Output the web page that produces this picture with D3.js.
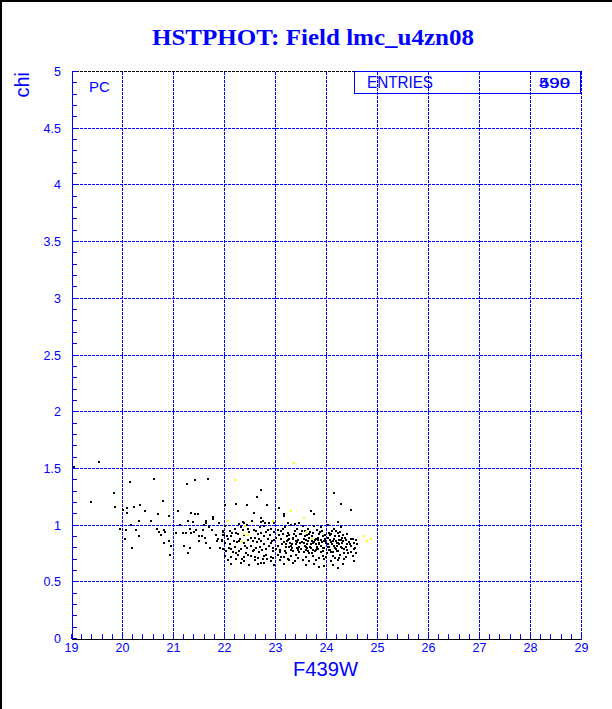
<!DOCTYPE html>
<html><head><meta charset="utf-8">
<script src="https://cdn.jsdelivr.net/npm/d3@7"></script>
<style>html,body{margin:0;padding:0;background:#fff;}svg{display:block;}</style>
</head><body>
<script>
const titleText = "HSTPHOT: Field lmc_u4zn08";
const xLabel = "F439W";
const yLabel = "chi";
const cornerLabel = "PC";
const legendLabel = "ENTRIES";
const legendValues = ["590", "499"];
const xTicks = [19,20,21,22,23,24,25,26,27,28,29];
const yTicks = [0,0.5,1,1.5,2,2.5,3,3.5,4,4.5,5];
const yTickLabels = ["0","0.5","1","1.5","2","2.5","3","3.5","4","4.5","5"];

const sparsePoints = [
[19.05,1.51],[19.54,1.56],[20.62,1.41],[20.15,1.38],[21.26,1.36],[21.42,1.40],[21.68,1.41],[19.84,1.28],[19.39,1.20],[20.79,1.21],
[20.34,1.18],[19.86,1.16],[20.09,1.15],[20.09,1.11],[20.22,1.16],[20.44,1.12],[20.01,1.13],[20.70,1.10],[20.92,1.08],[21.08,1.12],
[21.35,1.11],[21.42,1.10],[21.48,1.10],[21.28,1.04],[21.39,1.03],[21.63,1.04],[21.63,1.02],[21.77,1.07],[21.77,1.05],[21.89,1.02],
[22.00,1.18],[20.56,1.04],[20.32,1.04],[20.16,1.00],[19.95,0.97],[20.06,0.96],[20.05,0.88],[20.27,0.96],[20.32,0.90],[20.19,0.80],
[20.68,0.97],[20.71,0.94],[20.76,0.91],[20.81,0.96],[20.84,0.94],[20.82,0.84],[20.91,0.86],[20.95,0.82],[20.93,0.74],[21.04,0.93],
[21.13,1.00],[21.19,0.93],[21.25,0.93],[21.33,0.97],[21.35,0.93],[21.41,0.94],[21.21,0.82],[21.29,0.75],[21.32,0.80],[21.50,0.90],
[21.50,0.86],[21.55,0.90],[21.61,0.89],[21.63,0.84],[21.71,0.80],[21.45,0.96],[21.58,0.96],[21.69,0.98],[21.76,0.96],[21.84,0.91],
[21.87,0.88],[21.85,0.86],[21.95,0.86],[21.92,0.80],[21.98,0.95],[21.97,0.91],[22.00,0.73],[21.60,1.00],
[22.64,1.25],[22.71,1.31],[22.22,1.19],[22.44,1.18],[22.83,1.18],[22.57,1.11],[23.06,1.15],[23.17,1.10],[23.17,1.08],[22.72,1.06],
[22.72,1.03],[22.80,1.02],[22.75,1.04],[22.53,1.04],[22.36,1.03],[22.39,1.02],[22.29,1.01],[22.88,1.02],[22.98,1.02],[23.24,1.02],
[23.38,1.01],[23.47,1.02],[24.14,1.28],[24.28,1.19],[24.48,1.13],[23.75,1.10],[23.70,1.12],[24.22,1.03]
];

const clusterWest = [
[22.01,0.99],[22.20,0.97],[22.33,0.98],[22.44,1.00],[22.57,0.96],[22.69,0.98],[22.78,0.99],[22.91,0.97],[23.04,0.96],[23.19,0.98],[23.30,1.00],[23.42,0.97],
[21.97,0.94],[22.10,0.95],[22.23,0.93],[22.36,0.96],[22.49,0.94],[22.62,0.95],[22.72,0.93],[22.85,0.96],[22.98,0.94],[23.10,0.95],[23.24,0.93],[23.38,0.95],
[21.99,0.91],[22.13,0.90],[22.26,0.92],[22.38,0.91],[22.51,0.89],[22.65,0.92],[22.77,0.90],[22.90,0.91],[23.01,0.89],[23.14,0.92],[23.27,0.91],[23.40,0.90],[23.49,0.92],
[21.95,0.87],[22.07,0.88],[22.18,0.86],[22.31,0.88],[22.46,0.87],[22.59,0.89],[22.72,0.86],[22.85,0.88],[22.97,0.87],[23.11,0.88],[23.23,0.86],[23.34,0.88],[23.45,0.87],
[22.00,0.84],[22.10,0.83],[22.25,0.85],[22.39,0.84],[22.52,0.82],[22.64,0.85],[22.77,0.83],[22.91,0.84],[23.04,0.82],[23.16,0.85],[23.29,0.84],[23.40,0.83],
[21.97,0.79],[22.08,0.80],[22.20,0.81],[22.33,0.79],[22.44,0.80],[22.57,0.78],[22.70,0.81],[22.82,0.79],[22.95,0.80],[23.08,0.78],[23.21,0.81],[23.32,0.80],[23.44,0.79],
[22.03,0.77],[22.16,0.76],[22.29,0.77],[22.42,0.75],[22.55,0.77],[22.68,0.76],[22.82,0.74],[22.95,0.77],[23.08,0.76],[23.21,0.75],[23.34,0.77],[23.47,0.76],
[22.00,0.73],[22.13,0.72],[22.26,0.74],[22.39,0.72],[22.52,0.73],[22.65,0.71],[22.78,0.73],[22.91,0.72],[23.04,0.74],[23.17,0.72],[23.30,0.73],[23.44,0.71],
[22.07,0.69],[22.23,0.70],[22.39,0.68],[22.59,0.69],[22.75,0.70],[22.91,0.68],[23.08,0.69],[23.24,0.70],[23.38,0.68],
[22.13,0.66],[22.33,0.67],[22.49,0.65],[22.65,0.66],[22.78,0.67],[22.98,0.65],[23.17,0.66],[23.34,0.67]
];

const clusterEast = [
[23.53,0.99],[23.63,0.97],[23.76,0.99],[23.89,0.98],[24.02,1.00],[24.15,0.97],[24.28,0.98],
[23.57,0.95],[23.68,0.94],[23.81,0.96],[23.92,0.95],[24.05,0.93],[24.18,0.95],[24.27,0.94],
[23.50,0.92],[23.62,0.91],[23.73,0.93],[23.86,0.92],[23.97,0.91],[24.09,0.92],[24.22,0.93],[24.33,0.91],[24.41,0.92],
[23.55,0.88],[23.66,0.89],[23.79,0.88],[23.90,0.87],[24.02,0.89],[24.14,0.88],[24.25,0.87],[24.36,0.89],[24.48,0.88],[24.58,0.87],
[23.52,0.85],[23.63,0.86],[23.75,0.85],[23.86,0.84],[23.97,0.86],[24.09,0.85],[24.20,0.84],[24.32,0.86],[24.45,0.85],[24.54,0.84],
[23.57,0.82],[23.68,0.81],[23.79,0.83],[23.90,0.82],[24.02,0.81],[24.14,0.82],[24.25,0.83],[24.38,0.81],[24.49,0.82],[24.60,0.83],
[23.50,0.79],[23.62,0.80],[23.73,0.78],[23.84,0.79],[23.96,0.80],[24.07,0.78],[24.18,0.79],[24.30,0.80],[24.41,0.78],[24.53,0.79],
[23.55,0.76],[23.66,0.75],[23.77,0.77],[23.89,0.76],[24.01,0.75],[24.12,0.76],[24.23,0.77],[24.35,0.75],[24.48,0.76],[24.58,0.75],
[23.60,0.72],[23.73,0.73],[23.86,0.71],[23.99,0.72],[24.12,0.73],[24.25,0.71],[24.38,0.72],[24.51,0.73],
[23.53,0.69],[23.66,0.68],[23.79,0.69],[23.96,0.70],[24.09,0.68],[24.22,0.69],[24.35,0.70],[24.54,0.68],
[23.60,0.65],[23.76,0.66],[23.96,0.64],[24.12,0.65],[24.32,0.66],
[23.86,0.63],[24.22,0.62],
[23.22,0.90],[23.35,0.89],[23.58,0.90],[23.71,0.90],[23.84,0.89],[23.94,0.90],[24.06,0.91],[24.17,0.90],[24.30,0.89],
[23.25,0.865],[23.40,0.86],[23.60,0.87],[23.72,0.86],[23.83,0.87],[23.95,0.86],[24.07,0.87],[24.19,0.86],[24.28,0.87],
[23.20,0.835],[23.33,0.83],[23.48,0.84],[23.61,0.83],[23.74,0.84],[23.85,0.83],[23.99,0.84],[24.11,0.83],[24.23,0.84],[24.40,0.83],
[23.27,0.805],[23.42,0.80],[23.60,0.81],[23.70,0.80],[23.82,0.81],[23.93,0.80],[24.05,0.81],[24.16,0.80],[24.29,0.81],
[23.30,0.78],[23.45,0.78],[23.64,0.77],[23.80,0.78],[23.93,0.77],[24.04,0.78],[24.20,0.77]
];

const clusterFill = [
[22.15,0.93],[22.28,0.86],[22.41,0.82],[22.47,0.97],[22.55,0.86],[22.61,0.80],[22.67,0.88],[22.74,0.78],[22.81,0.94],[22.87,0.82],
[22.93,0.86],[23.00,0.79],[23.06,0.91],[23.12,0.83],[23.15,0.97],[23.19,0.77],[23.26,0.88],[23.31,0.82],[23.36,0.92],[23.43,0.85],
[23.47,0.81],[23.51,0.95],[23.56,0.84],[23.59,0.78],[23.65,0.92],[23.69,0.83],[23.71,0.75],[23.77,0.87],[23.81,0.80],[23.87,0.94],
[23.91,0.85],[23.94,0.73],[23.98,0.88],[24.03,0.83],[24.08,0.76],[24.10,0.95],[24.13,0.86],[24.17,0.71],[24.21,0.82],[24.24,0.90],
[24.27,0.74],[24.31,0.84],[24.34,0.79],[24.39,0.87],[24.43,0.75],[24.46,0.83],[24.52,0.88],[24.56,0.80],[22.05,0.90],[22.12,0.79],
[22.22,0.75],[22.35,0.70],[22.47,0.74],[22.60,0.72],[22.71,0.67],[22.84,0.70],[22.96,0.71],[23.11,0.72],[23.27,0.69],[23.40,0.74]
];

const yellowPoints = [
[23.36,1.55],[22.20,1.40],[23.31,1.12],[22.06,1.04],[22.95,1.04],[23.55,1.06],[23.60,0.94],[22.38,0.92],
[22.34,0.85],[23.72,0.88],[24.73,0.90],[24.88,0.88],[24.79,0.86],[22.40,0.99],[22.46,0.91]
];

const W = 612, H = 709;
const BLUE = "#0000ff";
const svg = d3.select("body").append("svg").attr("width", W).attr("height", H);
svg.append("rect").attr("width", W).attr("height", H).attr("fill", "#fff");

const x = d3.scaleLinear().domain([19, 29]).range([71.5, 581.5]);
const y = d3.scaleLinear().domain([0, 5]).range([638.5, 71.5]);

// outer border (left/top)
svg.append("line").attr("x1",1).attr("x2",1).attr("y1",0).attr("y2",H).attr("stroke","#000").attr("stroke-width",2);
svg.append("line").attr("x1",0).attr("x2",W).attr("y1",1).attr("y2",1).attr("stroke","#000").attr("stroke-width",2);

const g = svg.append("g").attr("shape-rendering","crispEdges");

// grid
g.selectAll(".vg").data(xTicks.slice(1)).enter().append("line")
  .attr("x1", d => Math.round(x(d) - 0.5) + 0.5).attr("x2", d => Math.round(x(d) - 0.5) + 0.5)
  .attr("y1", y(0)).attr("y2", y(5))
  .attr("stroke", BLUE).attr("stroke-dasharray","3,1");
g.selectAll(".hg").data(yTicks.slice(1, -1)).enter().append("line")
  .attr("y1", d => Math.round(y(d) - 0.5) + 0.5).attr("y2", d => Math.round(y(d) - 0.5) + 0.5)
  .attr("x1", x(19)).attr("x2", x(29))
  .attr("stroke", BLUE).attr("stroke-dasharray","3,1");
// top frame
g.append("line").attr("x1", x(19)).attr("x2", x(29)).attr("y1", y(5)).attr("y2", y(5))
  .attr("stroke", "#000").attr("stroke-dasharray","3,1");

// bottom axis
const xMinor = d3.range(0, 51).map(i => 19 + i * 0.2);
const xAxis = d3.axisBottom(x).tickValues(xMinor).tickSize(0).tickFormat("");
const xa = g.append("g").attr("transform", `translate(0,${y(0)})`).call(xAxis);
xa.select(".domain").attr("stroke", "#000");
xa.selectAll(".mt").data(xMinor).enter().append("line")
  .attr("x1", d => Math.round(x(d) - 0.5) + 0.5).attr("x2", d => Math.round(x(d) - 0.5) + 0.5)
  .attr("y1", 0).attr("y2", -5).attr("stroke", BLUE);
svg.append("g").selectAll("text").data(xTicks).enter().append("text")
  .attr("x", d => x(d)).attr("y", 652).attr("text-anchor","middle")
  .attr("font-family","Liberation Sans, Arial, sans-serif").attr("font-size", 12.5)
  .attr("fill", BLUE).text(d => d);

// left axis
const yMinor = d3.range(0, 51).map(i => i * 0.1);
const yAxis = d3.axisLeft(y).tickValues(yMinor).tickSize(0).tickFormat("");
const ya = g.append("g").attr("transform", `translate(${x(19)},0)`).call(yAxis);
ya.select(".domain").attr("stroke", BLUE);
ya.selectAll(".mt").data(yMinor).enter().append("line")
  .attr("y1", d => Math.round(y(d) - 0.5) + 0.5).attr("y2", d => Math.round(y(d) - 0.5) + 0.5)
  .attr("x1", 0).attr("x2", 5).attr("stroke", BLUE);
svg.append("g").selectAll("text").data(yTicks).enter().append("text")
  .attr("x", 61).attr("y", d => y(d) + 4.5).attr("text-anchor","end")
  .attr("font-family","Liberation Sans, Arial, sans-serif").attr("font-size", 12.5)
  .attr("fill", BLUE).text((d, i) => yTickLabels[i]);

// points
const allBlack = sparsePoints.concat(clusterWest, clusterEast, clusterFill);
g.append("g").selectAll("rect").data(allBlack).enter().append("rect")
  .attr("x", d => Math.round(x(d[0])) - 1).attr("y", d => Math.round(y(d[1])) - 1)
  .attr("width", 2).attr("height", 2).attr("fill", "#000");
g.append("g").selectAll("rect").data(yellowPoints).enter().append("rect")
  .attr("x", d => Math.round(x(d[0])) - 1).attr("y", d => Math.round(y(d[1])) - 1)
  .attr("width", 2).attr("height", 2).attr("fill", "#ffff00");

// legend box
g.append("rect").attr("x", 354.5).attr("y", 71.5).attr("width", 226).attr("height", 21.5)
  .attr("fill", "none").attr("stroke", BLUE);
svg.append("text").attr("x", 367).attr("y", 88).attr("font-family","Liberation Sans, Arial, sans-serif")
  .attr("font-size", 16).attr("textLength", 66).attr("lengthAdjust","spacingAndGlyphs")
  .attr("fill", BLUE).text(legendLabel);
svg.selectAll(".lv").data(legendValues).enter().append("text")
  .attr("x", 539).attr("y", 88).attr("font-family","Liberation Sans, Arial, sans-serif")
  .attr("font-size", 14).attr("textLength", 31).attr("lengthAdjust","spacingAndGlyphs")
  .attr("fill", BLUE).text(d => d);

// labels
svg.append("text").attr("x", 89).attr("y", 92).attr("font-family","Liberation Sans, Arial, sans-serif")
  .attr("font-size", 15).attr("fill", BLUE).text(cornerLabel);
svg.append("text").attr("x", 313).attr("y", 45).attr("text-anchor","middle")
  .attr("font-family","Liberation Serif, Times New Roman, serif").attr("font-weight","bold")
  .attr("font-size", 24).attr("textLength", 322).attr("lengthAdjust","spacingAndGlyphs")
  .attr("fill", BLUE).text(titleText);
svg.append("text").attr("x", 293).attr("y", 676)
  .attr("font-family","Liberation Sans, Arial, sans-serif").attr("font-size", 21)
  .attr("textLength", 65).attr("lengthAdjust","spacingAndGlyphs")
  .attr("fill", BLUE).text(xLabel);
svg.append("text").attr("transform","translate(29,72) rotate(-90)").attr("text-anchor","end")
  .attr("font-family","Liberation Sans, Arial, sans-serif").attr("font-size", 20)
  .attr("fill", BLUE).text(yLabel);
</script>
</body></html>
